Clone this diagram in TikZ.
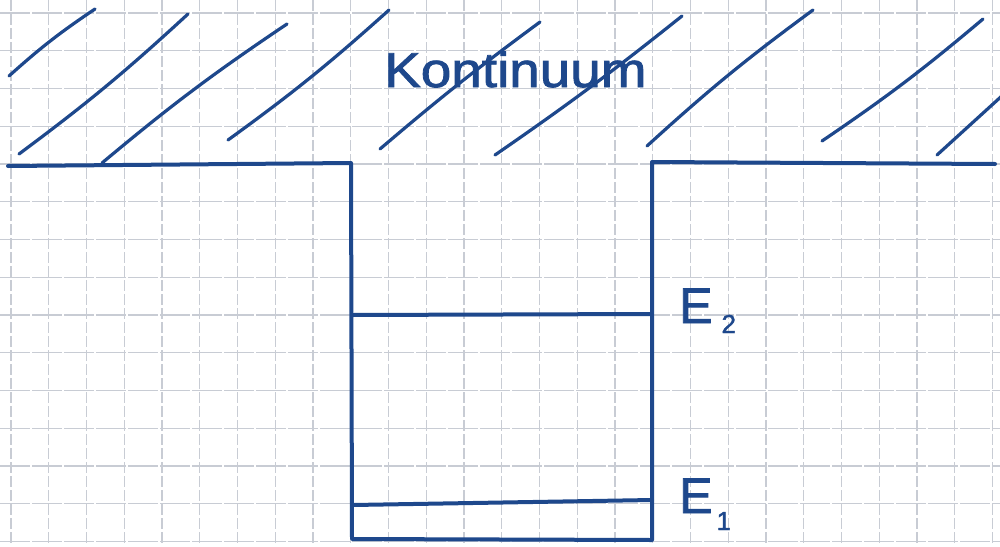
\documentclass[tikz,border=0pt]{standalone}
\usepackage{fontspec}
\setmainfont{Liberation Sans}
\newfontfamily\inkfont[FakeBold=1.6]{Liberation Sans}
\definecolor{ink}{RGB}{30,72,140}
\definecolor{gridc}{RGB}{200,204,212}
\begin{document}
\begin{tikzpicture}[x=1pt,y=-1pt,
  gridv/.style={draw=gridc, line width=1.4pt, dash pattern=on 11pt off 3pt},
  gridh/.style={draw=gridc, line width=1.4pt, dash pattern=on 30pt off 2pt},
  hatch/.style={draw=ink, line width=3.2pt, line cap=round},
  wall/.style={draw=ink, line width=4pt, line cap=round, line join=round},
  lab/.style={text=ink, inner sep=0pt, anchor=base west, font=\inkfont\fontsize{50}{50}\selectfont}]
\useasboundingbox (0,0) rectangle (1000,546);
\fill[white] (0,0) rectangle (1000,546);
% grid paper
\foreach \k in {0,...,26} \draw[gridv] ({11+37.75*\k},0) -- ({11+37.75*\k},546);
\foreach \k in {0,...,14} \draw[gridh] (0,{13+37.75*\k}) -- (1000,{13+37.75*\k});
% hatching of the continuum
\draw[hatch] (9,76) to[bend left=4] (95,9);
\draw[hatch] (19,154) to[bend right=3] (188,14);
\draw[hatch] (102,163) to[bend left=3] (287,24);
\draw[hatch] (228,140) to[bend right=3] (389,10);
\draw[hatch] (380,149) to[bend left=2] (540,22);
\draw[hatch] (495,155) to[bend right=2] (682,16);
\draw[hatch] (647,146) to[bend left=3] (813,10);
\draw[hatch] (822,141) to[bend right=3] (983,19);
\draw[hatch] (937,155) -- (1004,94);
% label
\node[text=ink, inner sep=0pt, anchor=base west, font=\inkfont\fontsize{49}{49}\selectfont] (kont) at (384,87) {\scalebox{1.12}[1]{Kontinuum}};
% potential well
\coordinate (lp) at (8,166);
\coordinate (lc) at (351,163);
\coordinate (lb) at (352,539);
\coordinate (rb) at (652,540);
\coordinate (rc) at (652,162);
\coordinate (rp) at (995,164);
\draw[wall] (lp) -- (lc) -- (lb) -- (rb) -- (rc) -- (rp);
% levels
\coordinate (e2l) at (352,315);
\coordinate (e2r) at (651,314);
\coordinate (e1l) at (353,505);
\coordinate (e1r) at (652,500);
\draw[wall] (e2l) -- (e2r);
\draw[wall] (e1l) -- (e1r);
\node[lab] (e2) at (679,323) {E\hspace{9pt}\raisebox{-10pt}{\inkfont\fontsize{26}{26}\selectfont 2}};
\node[lab] (e1) at (679,513) {E\hspace{4pt}\raisebox{-17pt}{\inkfont\fontsize{26}{26}\selectfont 1}};
\end{tikzpicture}
\end{document}
